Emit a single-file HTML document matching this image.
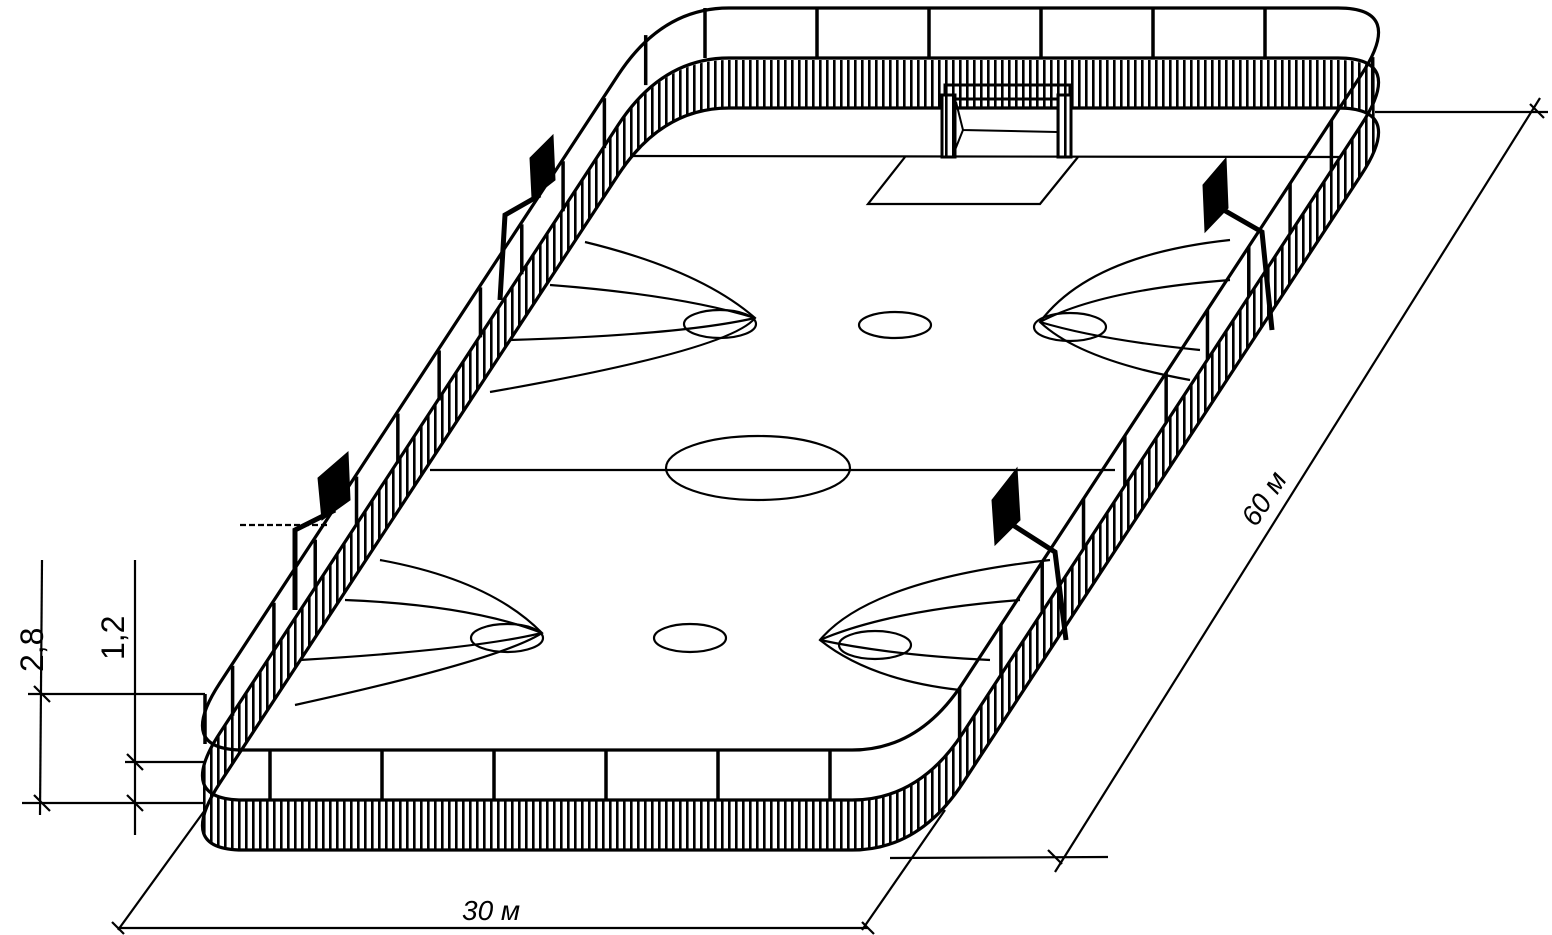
<!DOCTYPE html>
<html><head><meta charset="utf-8"><style>
html,body{margin:0;padding:0;background:#fff}
svg{display:block}
text{font-family:"Liberation Sans",sans-serif;fill:#000}
</style></head><body>
<svg id="s" width="1552" height="935" viewBox="0 0 1552 935" xmlns="http://www.w3.org/2000/svg">
<defs>
<pattern id="hat" width="7" height="20" patternUnits="userSpaceOnUse">
<rect width="7" height="20" fill="#fff"/><rect x="0" y="0" width="2.6" height="20" fill="#000"/>
</pattern>
<clipPath id="c0"><path id="cp0"/></clipPath>
</defs>
<g id="hatchg"></g>
<g clip-path="url(#c0)"><path id="ice" fill="#fff"/>
<g id="marks" fill="none" stroke="#000" stroke-width="2.2">
<line x1="430" y1="470" x2="1115" y2="470"/>
<ellipse cx="758" cy="468" rx="92" ry="32"/>
<line x1="630" y1="156" x2="1340" y2="157"/>
<polyline points="905,157 868,204 1040,204 1078,157"/>
<ellipse cx="720" cy="324" rx="36" ry="14"/>
<ellipse cx="895" cy="325" rx="36" ry="13"/>
<ellipse cx="1070" cy="327" rx="36" ry="14"/>
<ellipse cx="507" cy="638" rx="36" ry="14"/>
<ellipse cx="690" cy="638" rx="36" ry="14"/>
<ellipse cx="875" cy="645" rx="36" ry="14"/>
<path d="M585,242 Q700,270 755,318 Q730,350 490,392"/>
<path d="M550,285 Q680,295 755,318"/><path d="M510,340 Q680,335 755,318"/>
<path d="M1230,240 Q1090,255 1040,322 Q1080,360 1190,380"/>
<path d="M1230,280 Q1100,290 1040,322"/><path d="M1200,350 Q1100,340 1040,322"/>
<path d="M380,560 Q490,580 542,633 Q500,660 295,705"/>
<path d="M345,600 Q470,605 542,633"/><path d="M300,660 Q470,650 542,633"/>
<path d="M1050,560 Q870,580 820,640 Q870,680 960,690"/>
<path d="M1020,600 Q890,610 820,640"/><path d="M990,660 Q890,655 820,640"/>
</g></g>
<g id="outl" fill="none" stroke="#000" stroke-width="3.2"></g>
<g id="posts" stroke="#000" stroke-width="3.5"></g>
<!-- goal -->
<g stroke="#000" stroke-width="3" fill="#fff">
<rect x="945" y="85" width="125" height="14" fill="url(#hat)"/>
<rect x="942" y="95" width="13" height="62" fill="url(#hat)"/>
<rect x="1058" y="95" width="13" height="62" fill="url(#hat)"/>
<polyline points="956,102 963,130 1057,132" fill="none" stroke-width="2"/><line x1="963" y1="130" x2="955" y2="150" stroke-width="2"/>
</g>
<!-- baskets -->
<g fill="#000" stroke="#000">
<polygon points="530,158 553,135 555,180 532,198"/>
<polygon points="318,478 348,452 350,500 322,520"/>
<polygon points="1203,185 1226,158 1228,208 1205,232"/>
<polygon points="992,500 1017,468 1020,520 995,545"/>
<g fill="none" stroke-width="5">
<polyline points="540,195 505,215 500,300"/>
<polyline points="335,510 295,530 295,610"/>
<polyline points="1215,205 1262,232 1272,330"/>
<polyline points="1005,520 1055,552 1066,640"/>
</g></g>
<!-- dimensions -->
<g stroke="#000" stroke-width="2.2" fill="none">
<line x1="42" y1="560" x2="40" y2="815"/><line x1="135" y1="560" x2="135" y2="835"/>
<line x1="28" y1="694" x2="205" y2="694"/><line x1="22" y1="803" x2="205" y2="803"/>
<line x1="125" y1="762" x2="205" y2="762"/>
<line x1="205" y1="810" x2="118" y2="930"/><line x1="118" y1="928" x2="868" y2="928"/>
<line x1="945" y1="810" x2="862" y2="930"/>
<line x1="890" y1="858" x2="1108" y2="857"/><line x1="1375" y1="112" x2="1548" y2="112"/>
<line x1="1055" y1="872" x2="1540" y2="98"/>
<line x1="240" y1="525" x2="330" y2="525" stroke-dasharray="6,3"/>
<path d="M34,686l16,16M34,795l16,16M127,754l16,16M127,795l16,16M112,922l12,12M862,922l12,12M1048,850l14,14M1530,104l14,14"/>
</g>
<text transform="translate(43,672) rotate(-90)" font-size="32">2,8</text>
<text transform="translate(124,660) rotate(-90)" font-size="32">1,2</text>
<text x="462" y="920" font-size="28" font-style="italic">30 м</text>
<text transform="translate(1256,528) rotate(-57)" font-size="28" font-style="italic">60 м</text>
</svg>
<script>
function ring(h){
 var FL=[176,850-h],FR=[919,850-h],BR=[1405,108-h],BL=[662,108-h];
 function P(a,b,t){return [a[0]+(b[0]-a[0])*t,a[1]+(b[1]-a[1])*t];}
 var cs=[FL,FR,BR,BL];
 var d="";
 for(var i=0;i<4;i++){
  var c=cs[i],p=cs[(i+3)%4],n=cs[(i+1)%4];
  var a=P(c,p,0.09),b=P(c,n,0.09);
  d+=(i==0?"M":"L")+a[0].toFixed(1)+","+a[1].toFixed(1)+" Q"+c[0]+","+c[1]+" "+b[0].toFixed(1)+","+b[1].toFixed(1)+" ";
 }
 return d+"Z";
}
var NS="http://www.w3.org/2000/svg";
var hg=document.getElementById("hatchg");
for(var h=0;h<=50;h+=3){var p=document.createElementNS(NS,"path");p.setAttribute("d",ring(h));p.setAttribute("fill","url(#hat)");hg.appendChild(p);}
document.getElementById("cp0").setAttribute("d",ring(0));
document.getElementById("ice").setAttribute("d",ring(50));
var og=document.getElementById("outl");
[0,50,100].forEach(function(h){var p=document.createElementNS(NS,"path");p.setAttribute("d",ring(h));og.appendChild(p);});
var pg=document.getElementById("posts");
function addPost(x,y){var l=document.createElementNS(NS,"line");l.setAttribute("x1",x);l.setAttribute("y1",y);l.setAttribute("x2",x);l.setAttribute("y2",y-50);pg.appendChild(l);}
for(var x=270;x<=880;x+=112)addPost(x,800);
for(var x=705;x<=1320;x+=112)addPost(x,58);
for(var t=0.1;t<0.95;t+=0.085){addPost(919+486*t-8,850-742*t-50+12);addPost(176+486*t+8,850-742*t-50-10);}
addPost(205,744);
</script>
</body></html>
